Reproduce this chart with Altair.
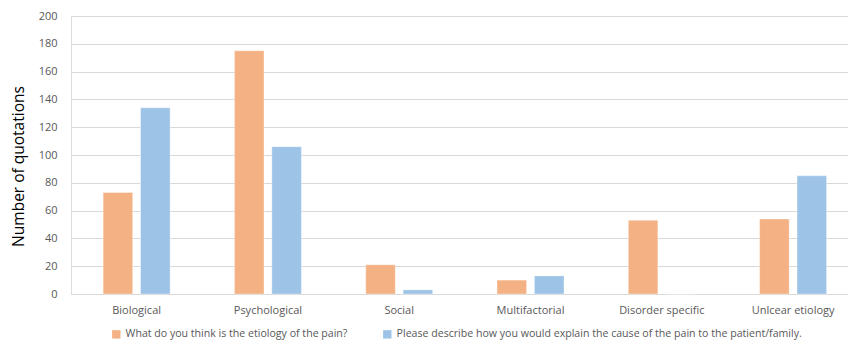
import altair as alt
import pandas as pd

categories = ["Biological", "Psychological", "Social", "Multifactorial", "Disorder specific", "Unlcear etiology"]
series = ["What do you think is the etiology of the pain?",
          "Please describe how you would explain the cause of the pain to the patient/family."]
values_q1 = [73, 175, 21, 10, 53, 54]
values_q2 = [134, 106, 3, 13, 0, 85]
colors = ["#F4B183", "#9DC3E6"]

rows = []
for c, a, b in zip(categories, values_q1, values_q2):
    rows.append({"category": c, "series": series[0], "value": a})
    rows.append({"category": c, "series": series[1], "value": b})
df = pd.DataFrame(rows)

font = "Open Sans"

chart = alt.Chart(df).mark_bar(stroke="white", strokeWidth=0.6, strokeOpacity=0.6).encode(
    x=alt.X("category:N", sort=categories,
            scale=alt.Scale(paddingInner=0.49, paddingOuter=0.204, align=0.6),
            axis=alt.Axis(title=None, labelAngle=0, ticks=False, domain=True,
                          domainColor="#D9D9D9", domainWidth=1,
                          labelColor="#595959", labelFontSize=11, labelFont=font,
                          labelPadding=10)),
    xOffset=alt.XOffset("series:N", sort=series,
                        scale=alt.Scale(paddingInner=0.21, paddingOuter=0)),
    y=alt.Y("value:Q", scale=alt.Scale(domain=[0, 200]),
            axis=alt.Axis(title="Number of quotations", values=list(range(0, 201, 20)),
                          ticks=False, domain=False, grid=True, gridColor="#D9D9D9",
                          gridWidth=1, labelColor="#595959", labelFontSize=11,
                          labelFont=font, labelPadding=14,
                          titleFont=font, titleFontSize=15.5, titleFontWeight="normal",
                          titleColor="#000000", titlePadding=12, titleY=150)),
    color=alt.Color("series:N", sort=series,
                    scale=alt.Scale(domain=series, range=colors),
                    legend=alt.Legend(title=None, orient="none", direction="horizontal",
                                      legendX=40, legendY=313, symbolType="square",
                                      symbolSize=70, symbolStrokeWidth=0,
                                      labelFont=font, labelFontSize=10.6,
                                      labelColor="#595959", columnPadding=34,
                                      labelLimit=600, symbolOffset=0)),
).properties(
    width=777, height=278,
    autosize=alt.AutoSizeParams(type="none"),
    padding={"left": 71, "top": 16, "right": 0, "bottom": 50},
).configure_view(stroke=None).configure(background="white")

chart.save("out.html", embed_options={"renderer": "svg", "actions": False})
